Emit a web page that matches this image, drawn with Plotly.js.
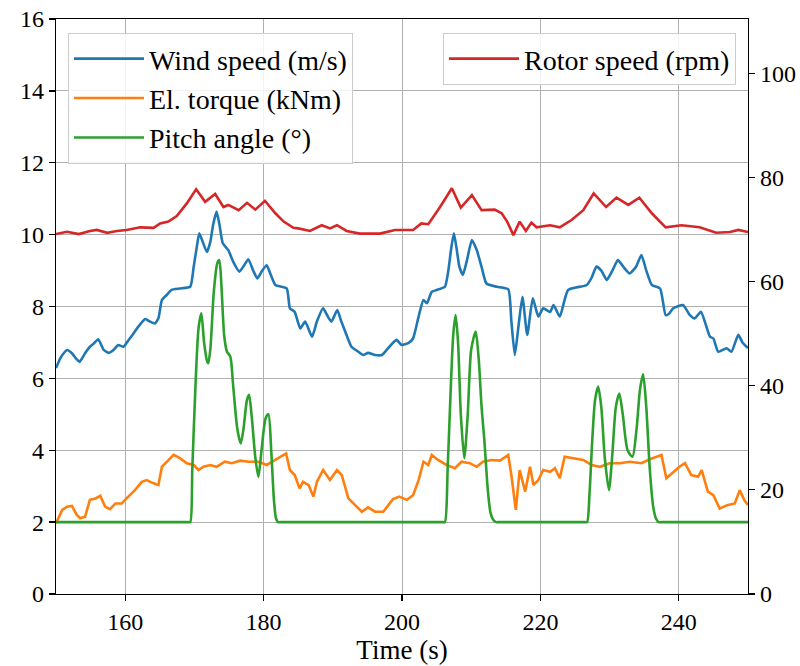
<!DOCTYPE html>
<html>
<head>
<meta charset="utf-8">
<script src="https://cdn.plot.ly/plotly-3.0.1.min.js"></script>
<style>html,body{margin:0;padding:0;background:#fff;}#chart{width:800px;height:666px;}</style>
</head>
<body>
<div id="chart"></div>
<script>
const windT = [150.0,150.6,151.2,151.6,152.3,152.9,153.4,154.2,154.9,155.4,156.1,156.9,157.6,158.3,159.0,159.75,160.5,161.2,161.9,162.9,163.6,164.3,164.8,165.3,166.0,166.7,167.9,169.4,169.9,170.35,170.7,171.2,171.8,172.3,172.7,173.2,173.6,174.1,174.9,175.6,176.5,177.2,177.8,178.5,179.1,179.8,180.45,181.0,181.7,183.35,183.8,184.5,185.3,186.0,187.0,187.7,188.6,189.2,189.8,190.65,191.2,191.8,192.7,193.7,194.4,195.1,196.1,197.1,198.0,199.2,199.96,200.9,201.6,202.4,203.1,203.6,204.3,205.0,206.2,206.7,207.1,207.5,207.9,208.3,208.8,209.4,210.1,210.8,211.5,212.2,213.7,215.35,215.8,216.3,216.8,217.4,218.1,218.9,219.7,220.4,221.4,221.9,222.8,224.0,226.7,227.4,228.1,228.8,229.6,230.4,231.2,232.0,232.9,233.8,234.6,235.3,236.1,237.3,238.1,238.6,239.2,240.6,241.6,242.3,243.2,244.5,245.0,245.7,246.9,247.6,248.6,249.2,250.0];
const windV = [6.29,6.55,6.72,6.79,6.70,6.55,6.46,6.70,6.88,6.96,7.09,6.79,6.71,6.79,6.93,6.88,7.07,7.25,7.44,7.65,7.58,7.53,7.67,8.18,8.32,8.46,8.50,8.55,9.11,9.66,10.04,9.80,9.52,9.80,10.27,10.64,10.30,9.76,9.57,9.25,8.97,9.15,9.31,9.00,8.78,9.00,9.15,8.90,8.60,8.50,7.95,7.85,7.39,7.58,7.16,7.58,7.95,7.75,7.58,7.90,7.60,7.30,6.88,6.74,6.65,6.71,6.65,6.65,6.84,7.07,6.93,6.98,7.11,7.72,8.18,8.09,8.41,8.46,8.55,9.00,9.60,10.04,9.60,9.10,8.88,9.30,9.85,9.57,9.10,8.64,8.55,8.48,7.60,6.65,7.40,8.27,7.21,8.23,7.72,7.95,7.85,8.04,7.72,8.46,8.60,8.80,9.11,9.00,8.74,9.00,9.29,9.10,8.92,9.10,9.43,9.00,8.60,8.50,7.76,7.80,7.95,8.04,7.76,7.67,7.85,7.16,7.11,6.74,6.84,6.74,7.21,7.00,6.84];

const torqueT = [150.0,150.5,150.9,151.6,152.3,153.0,153.5,154.2,154.9,155.7,156.4,157.1,157.8,158.6,159.5,160.2,161.4,162.4,163.1,164.1,164.8,165.3,166.0,167.0,167.9,168.9,169.9,170.6,171.3,172.3,173.2,174.4,175.4,176.6,177.8,179.25,180.45,181.7,182.5,183.25,183.8,184.5,185.2,185.7,186.5,187.2,187.7,188.6,189.6,190.6,191.3,192.25,193.2,194.2,195.1,196.1,197.3,198.0,198.7,199.6,200.7,201.6,202.4,203.1,203.8,204.3,205.2,206.45,207.65,208.6,209.8,210.8,211.7,212.95,214.15,215.35,215.8,216.45,217.0,217.8,218.5,219.0,219.7,220.4,221.4,222.1,222.8,223.5,224.7,226.2,227.4,228.6,230.0,231.5,232.9,234.6,235.8,237.5,238.2,239.2,240.1,240.9,241.8,242.8,243.3,244.2,245.0,245.9,247.1,248.1,248.8,249.5,250.0];
const torqueV = [1.97,2.20,2.34,2.43,2.45,2.20,2.11,2.15,2.62,2.66,2.73,2.43,2.36,2.52,2.52,2.66,2.89,3.12,3.17,3.08,3.03,3.54,3.68,3.87,3.78,3.64,3.59,3.45,3.54,3.59,3.54,3.68,3.64,3.71,3.68,3.68,3.59,3.73,3.82,3.91,3.45,3.31,2.94,3.12,3.03,2.71,3.12,3.45,3.17,3.45,3.31,2.66,2.48,2.29,2.41,2.29,2.29,2.48,2.64,2.71,2.62,2.75,3.17,3.68,3.59,3.87,3.73,3.59,3.50,3.68,3.64,3.54,3.68,3.73,3.71,3.87,3.31,2.34,3.45,2.85,3.54,3.03,3.17,3.45,3.40,3.50,3.22,3.82,3.78,3.73,3.59,3.54,3.64,3.64,3.68,3.64,3.75,3.87,3.22,3.40,3.54,3.64,3.31,3.26,3.45,2.85,2.75,2.38,2.48,2.52,2.89,2.60,2.48];

const pitchT = [150.0,160.0,168.8,169.1,169.4,169.7,170.2,170.6,171.0,171.4,171.8,172.0,172.3,172.8,173.3,173.6,173.9,174.3,174.7,175.2,175.6,176.2,176.7,177.1,177.6,177.9,178.3,178.8,179.25,179.7,180.3,180.7,181.1,181.5,181.8,182.1,182.4,182.7,195.0,205.6,205.9,206.2,206.6,207.0,207.4,207.75,208.1,208.5,209.0,209.5,210.0,210.65,211.1,211.5,211.9,212.4,212.8,213.2,213.6,213.9,214.2,220.0,226.1,226.45,226.75,227.1,227.5,227.9,228.35,228.8,229.3,229.9,230.4,230.9,231.4,231.9,232.6,233.3,233.9,234.4,234.85,235.3,235.8,236.3,236.7,237.1,237.4,237.7,245.0,250.0];
const pitchV = [2.0,2.0,2.0,2.0,2.0,3.5,6.0,7.4,7.81,7.0,6.5,6.42,6.8,8.4,9.2,9.29,8.6,7.2,6.75,6.6,5.8,4.6,4.19,4.6,5.4,5.54,4.9,3.8,3.26,4.0,4.9,5.0,4.0,2.6,2.1,2.0,2.0,2.0,2.0,2.0,2.0,2.0,3.5,5.5,7.2,7.76,7.0,5.0,3.78,5.0,6.8,7.3,6.5,5.2,4.28,2.9,2.25,2.06,2.0,2.0,2.0,2.0,2.0,2.0,2.0,2.8,4.3,5.4,5.77,5.2,3.8,2.89,3.9,5.2,5.58,5.0,4.0,3.82,4.6,5.7,6.11,5.2,3.5,2.43,2.1,2.0,2.0,2.0,2.0,2.0];

const rotorT = [150.0,151.6,153.3,154.9,155.9,157.4,158.8,160.2,162.2,164.1,165.05,166.25,167.45,168.9,170.25,171.55,173.0,174.2,174.9,176.4,177.6,178.8,180.2,181.7,182.9,184.3,185.0,186.7,188.4,189.6,190.6,192.0,193.9,196.8,199.0,201.6,202.8,203.8,205.5,207.2,208.5,210.1,211.5,213.4,214.4,215.2,216.1,217.0,217.9,218.7,219.45,221.4,222.8,224.5,226.2,227.7,229.5,231.0,232.7,234.3,236.1,238.1,240.4,243.0,245.4,247.4,248.6,250.0];
const rotorV = [69.1,69.55,69.1,69.7,69.9,69.35,69.7,69.9,70.4,70.3,71.15,71.5,72.55,75.0,77.7,75.3,76.8,74.3,74.7,73.7,75.1,73.8,75.5,73.1,71.5,70.3,70.2,69.7,70.8,70.2,70.8,69.7,69.2,69.2,69.9,69.9,71.15,71.0,74.3,77.9,74.2,76.6,73.7,73.8,73.1,71.5,68.9,71.5,69.7,71.3,70.4,70.8,70.4,71.8,73.7,76.9,74.3,76.1,74.7,76.1,73.1,70.4,70.8,70.4,69.35,69.5,69.9,69.5];

const names = ['Wind speed (m/s)','El. torque (kNm)','Pitch angle (°)','Rotor speed (rpm)'];
const xTicks = [160,180,200,220,240];
const yLeftTicks = [0,2,4,6,8,10,12,14,16];
const yRightTicks = [0,20,40,60,80,100];

const FONT = 'Liberation Serif, DejaVu Serif, serif';
const LW = 2.6;

const traces = [
  {x: windT, y: windV, name: names[0], mode:'lines', line:{color:'#1f77b4', width:LW, shape:'spline', smoothing:0.5}, yaxis:'y', legend:'legend', legendgroup:'g1'},
  {x: torqueT, y: torqueV, name: names[1], mode:'lines', line:{color:'#ff7f0e', width:LW}, yaxis:'y', legend:'legend', legendgroup:'g2'},
  {x: pitchT, y: pitchV, name: names[2], mode:'lines', line:{color:'#2ca02c', width:LW, shape:'spline', smoothing:0.7}, yaxis:'y', legend:'legend', legendgroup:'g3'},
  {x: rotorT, y: rotorV, name: names[3], mode:'lines', line:{color:'#d62728', width:LW}, yaxis:'y2', legend:'legend2', legendgroup:'g4'}
];

const axisCommon = {
  showline:true, linecolor:'#000', linewidth:1.3, mirror:false,
  ticks:'outside', ticklen:6, tickwidth:1.3, tickcolor:'#000',
  zeroline:false, tickfont:{family:FONT, size:24, color:'#000'}
};

const legendFont = {family:FONT, size:28, color:'#000'};

const layout = {
  width:800, height:666,
  margin:{l:56, r:52, t:19, b:72},
  paper_bgcolor:'#fff', plot_bgcolor:'#fff',
  font:{family:FONT, size:24, color:'#000'},
  showlegend:true,
  xaxis: Object.assign({}, axisCommon, {
    range:[150,250], tickvals:xTicks, ticktext:xTicks.map(String),
    showgrid:true, gridcolor:'#b0b0b0', gridwidth:1, mirror:true,
    title:{text:'Time (s)', font:{family:FONT, size:27, color:'#000'}, standoff:2}
  }),
  yaxis: Object.assign({}, axisCommon, {
    range:[0,16], tickvals:yLeftTicks, ticktext:yLeftTicks.map(String),
    showgrid:true, gridcolor:'#b0b0b0', gridwidth:1
  }),
  yaxis2: Object.assign({}, axisCommon, {
    range:[0,110.4], tickvals:yRightTicks, ticktext:yRightTicks.map(String),
    overlaying:'y', side:'right', showgrid:false
  }),
  legend:{
    x:0.0173, y:0.9757, xanchor:'left', yanchor:'top',
    bgcolor:'rgba(255,255,255,0.85)', bordercolor:'#cccccc', borderwidth:1,
    font:legendFont, traceorder:'grouped', tracegroupgap:0, itemwidth:70
  },
  legend2:{
    x:0.9827, y:0.9757, xanchor:'right', yanchor:'top',
    bgcolor:'rgba(255,255,255,0.85)', bordercolor:'#cccccc', borderwidth:1,
    font:legendFont, itemwidth:70
  }
};

Plotly.newPlot('chart', traces, layout, {displayModeBar:false, staticPlot:true});
</script>
</body>
</html>
